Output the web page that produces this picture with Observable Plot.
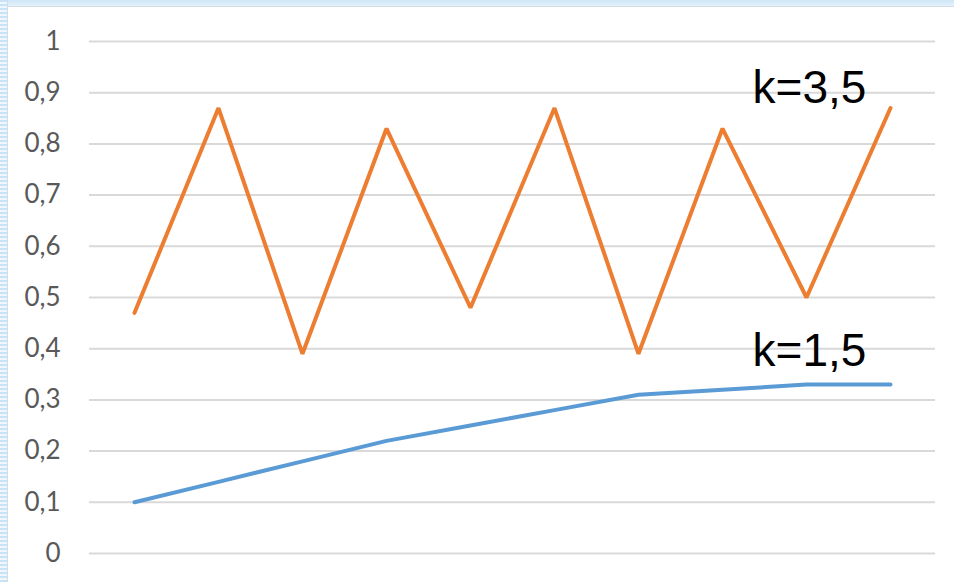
<!DOCTYPE html>
<html>
<head>
<meta charset="utf-8">
<script src="https://cdn.jsdelivr.net/npm/d3@7"></script>
<script src="https://cdn.jsdelivr.net/npm/@observablehq/plot@0.6"></script>
<style>
  html, body { margin: 0; padding: 0; background: #ffffff; }
  #frame {
    position: relative;
    width: 954px;
    height: 582px;
    overflow: hidden;
    background: #ffffff;
  }
  /* striped window edge on the left, tinted band on top */
  #frame .edge-left {
    position: absolute; left: 0; top: 0; width: 7px; height: 582px;
    background: repeating-linear-gradient(to bottom, #c9e3f6 0px, #c9e3f6 2px, #eef7fd 2px, #eef7fd 4px);
    border-right: 1px solid #d4dde4;
  }
  #frame .edge-top {
    position: absolute; left: 0; top: 0; width: 954px; height: 6px;
    background: linear-gradient(to bottom, #cfe6f7, #e3f1fb);
    border-bottom: 1px solid #d4dde4;
  }
  #chart { position: absolute; left: 0; top: 0; }
</style>
</head>
<body>
<div id="frame">
  <div id="chart"></div>
  <div class="edge-top"></div>
  <div class="edge-left"></div>
</div>
<script>
// Step index along the x axis (labels hidden)
const steps = [1, 2, 3, 4, 5, 6, 7, 8, 9, 10];

// Series k = 3,5 (oscillating)
const k35 = [0.47, 0.87, 0.39, 0.83, 0.48, 0.87, 0.39, 0.83, 0.50, 0.87];

// Series k = 1,5 (settling)
const k15 = [0.10, 0.14, 0.18, 0.22, 0.25, 0.28, 0.31, 0.32, 0.33, 0.33];

// Y-axis ticks
const yTicks = [0, 0.1, 0.2, 0.3, 0.4, 0.5, 0.6, 0.7, 0.8, 0.9, 1];

const seriesNames = ["k=3,5", "k=1,5"];

const rows = [
  ...steps.map((s, i) => ({step: s, value: k35[i], series: seriesNames[0]})),
  ...steps.map((s, i) => ({step: s, value: k15[i], series: seriesNames[1]}))
];

// Series labels sit above the ninth step, keyed to each series' final value
const labels = [
  {step: steps[8], value: k35[k35.length - 1], text: seriesNames[0], dy: -5},
  {step: steps[8], value: k15[k15.length - 1], text: seriesNames[1], dy: -19}
];

const commaFmt = d => String(d).replace(".", ",");

const plot = Plot.plot({
  width: 954,
  height: 582,
  marginLeft: 89,
  marginRight: 19,
  marginTop: 41,
  marginBottom: 29,
  style: {background: "transparent", fontFamily: "Lato, 'Open Sans', sans-serif"},
  x: {type: "band", domain: steps, padding: 0, axis: null},
  y: {domain: [0, 1], ticks: yTicks},
  color: {domain: seriesNames, range: ["#ed7d31", "#5b9bd5"]},
  marks: [
    Plot.ruleY(yTicks, {stroke: "#d9d9d9", strokeWidth: 2}),
    Plot.axisY({
      ticks: yTicks,
      tickFormat: commaFmt,
      tickSize: 0,
      tickPadding: 29,
      fontSize: 26,
      fill: "#595959",
      label: null
    }),
    Plot.line(rows, {
      x: "step",
      y: "value",
      z: "series",
      stroke: "series",
      strokeWidth: 4,
      strokeLinejoin: "miter",
      strokeLinecap: "round"
    }),
    Plot.text(labels.slice(0, 1), {
      x: "step", y: "value", text: "text", dy: labels[0].dy, dx: 3,
      lineAnchor: "bottom", textAnchor: "middle",
      fontSize: 46, fill: "#000000", fontFamily: "'Liberation Sans', Arial, sans-serif"
    }),
    Plot.text(labels.slice(1, 2), {
      x: "step", y: "value", text: "text", dy: labels[1].dy, dx: 3,
      lineAnchor: "bottom", textAnchor: "middle",
      fontSize: 46, fill: "#000000", fontFamily: "'Liberation Sans', Arial, sans-serif"
    })
  ]
});

document.getElementById("chart").appendChild(plot);
</script>
</body>
</html>
